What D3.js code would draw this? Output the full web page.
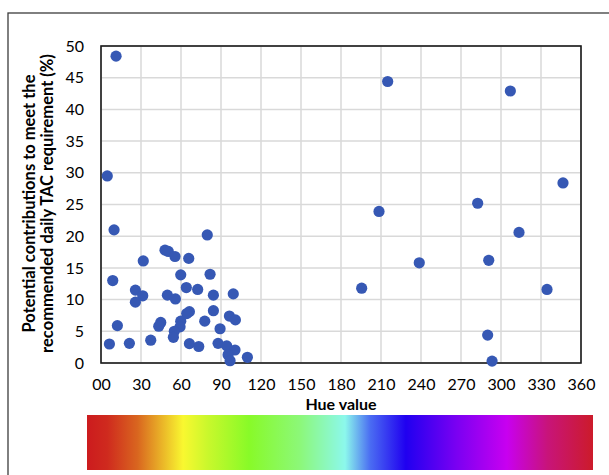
<!DOCTYPE html>
<html>
<head>
<meta charset="utf-8">
<script src="https://cdn.jsdelivr.net/npm/d3@7"></script>
<style>
  body { margin: 0; background: #fff; }
  text { font-family: Lato, "Open Sans", sans-serif; fill: #000; }
</style>
</head>
<body>
<svg id="chart" width="609" height="475"></svg>
<script>
// hue value of each sample and its contribution (%)
var hue = [11.3, 4.7, 9.8, 79.7, 48, 50.5, 55.5, 31.7, 65.8, 8.8, 59.8, 81.8,
  64, 72.5, 25.8, 31.3, 25.8, 49.8, 55.8, 84.3, 99.2, 66.3, 64.3, 84.3,
  96.3, 100.8, 59.8, 77.8, 44.8, 43.3, 59.3, 55, 54.3, 89.3, 12.3, 6.3,
  21.3, 37.3, 66.3, 73.3, 87.8, 94.3, 100.5, 95.3, 96.8, 109.8,
  215, 307, 346.5, 282.5, 208.5, 313.5, 238.7, 290.8, 195.5, 334.5, 290, 293.3];
var contribution = [48.4, 29.5, 21.0, 20.2, 17.8, 17.6, 16.8, 16.1, 16.5, 13.0, 13.9, 14.0,
  11.9, 11.6, 11.5, 10.6, 9.6, 10.7, 10.1, 10.7, 10.9, 8.1, 7.8, 8.25,
  7.4, 6.8, 6.6, 6.6, 6.4, 5.8, 5.7, 5.0, 4.05, 5.4, 5.9, 3.0,
  3.1, 3.6, 3.05, 2.6, 3.1, 2.7, 2.05, 1.3, 0.36, 0.9,
  44.4, 42.9, 28.4, 25.2, 23.9, 20.6, 15.8, 16.2, 11.8, 11.6, 4.4, 0.3];

var xTicks = [0, 30, 60, 90, 120, 150, 180, 210, 240, 270, 300, 330, 360];
var xTickLabels = ["00", "30", "60", "90", "120", "150", "180", "210", "240", "270", "300", "330", "360"];
var yTicks = [0, 5, 10, 15, 20, 25, 30, 35, 40, 45, 50];

// hue strip colours (offset along the strip, colour)
var stripOffsets = [0, 0.04, 0.10, 0.19, 0.24, 0.32, 0.42, 0.51, 0.56, 0.63, 0.73, 0.83, 0.91, 1];
var stripColors = ["#cc1b1e", "#cf2a1e", "#d9661f", "#f9f830", "#c8f82c", "#88fa28", "#8cf878",
  "#8cf8ec", "#4a6cf2", "#2000f0", "#7a00f2", "#c800f0", "#c8147a", "#cc1b2a"];

var data = hue.map((h, i) => ({ hue: h, value: contribution[i] }));

var margin = { top: 46, right: 28, bottom: 112, left: 101 };
var width = 609 - margin.left - margin.right,
    height = 475 - margin.top - margin.bottom;

var root = d3.select("#chart");

// outer frame
root.append("rect")
    .attr("x", 8).attr("y", 13)
    .attr("width", 620).attr("height", 480)
    .attr("fill", "none")
    .attr("stroke", "#3c3c3c")
    .attr("stroke-width", 1.3);

var svg = root.append("g")
    .attr("transform", "translate(" + margin.left + "," + margin.top + ")");

var x = d3.scaleLinear().domain([0, 360]).range([0, width]);
var y = d3.scaleLinear().domain([0, 50]).range([height, 0]);

// grid
svg.append("g")
    .selectAll("line.v")
    .data(xTicks)
    .enter().append("line")
    .attr("x1", d => x(d)).attr("x2", d => x(d))
    .attr("y1", 0).attr("y2", height)
    .attr("stroke", "#d9d9d9").attr("stroke-width", 1.5);

svg.append("g")
    .selectAll("line.h")
    .data(yTicks)
    .enter().append("line")
    .attr("x1", 0).attr("x2", width)
    .attr("y1", d => y(d)).attr("y2", d => y(d))
    .attr("stroke", "#d9d9d9").attr("stroke-width", 1.5);

// plot frame
svg.append("rect")
    .attr("width", width).attr("height", height)
    .attr("fill", "none")
    .attr("stroke", "#1a1a1a")
    .attr("stroke-width", 1.6);

var xAxis = d3.axisBottom(x)
    .tickValues(xTicks)
    .tickSize(0)
    .tickPadding(16)
    .tickFormat((d, i) => xTickLabels[i]);

var yAxis = d3.axisLeft(y)
    .tickValues(yTicks)
    .tickSize(0)
    .tickPadding(17);

var gx = svg.append("g")
    .attr("transform", "translate(0," + height + ")")
    .call(xAxis);
gx.select(".domain").remove();
gx.selectAll("text").attr("font-size", "16px").attr("font-family", "Lato, sans-serif");

var gy = svg.append("g").call(yAxis);
gy.select(".domain").remove();
gy.selectAll("text").attr("font-size", "16px").attr("font-family", "Lato, sans-serif");

svg.selectAll("circle")
    .data(data)
    .enter()
    .append("circle")
    .attr("cx", d => x(d.hue))
    .attr("cy", d => y(d.value))
    .attr("r", 5.6)
    .attr("fill", "#3658b4");

// axis titles
svg.append("text")
    .attr("x", width / 2)
    .attr("y", height + 47)
    .attr("text-anchor", "middle")
    .attr("font-size", "16px")
    .attr("font-weight", "bold")
    .text("Hue value");

var yTitle = svg.append("text")
    .attr("transform", "translate(-66," + (height / 2 - 1) + ") rotate(-90)")
    .attr("text-anchor", "middle")
    .attr("font-size", "16.5px")
    .attr("font-weight", "bold");
yTitle.append("tspan").attr("x", 0).attr("dy", "0").text("Potential contributions to meet the");
yTitle.append("tspan").attr("x", 0).attr("dy", "1.12em").text("recommended daily TAC requirement (%)");

// hue colour strip
var grad = root.append("defs").append("linearGradient")
    .attr("id", "hueStrip");
grad.selectAll("stop")
    .data(stripOffsets)
    .enter().append("stop")
    .attr("offset", d => d)
    .attr("stop-color", (d, i) => stripColors[i]);

root.append("rect")
    .attr("x", 87).attr("y", 415)
    .attr("width", 506).attr("height", 55)
    .attr("fill", "url(#hueStrip)");
</script>
</body>
</html>
